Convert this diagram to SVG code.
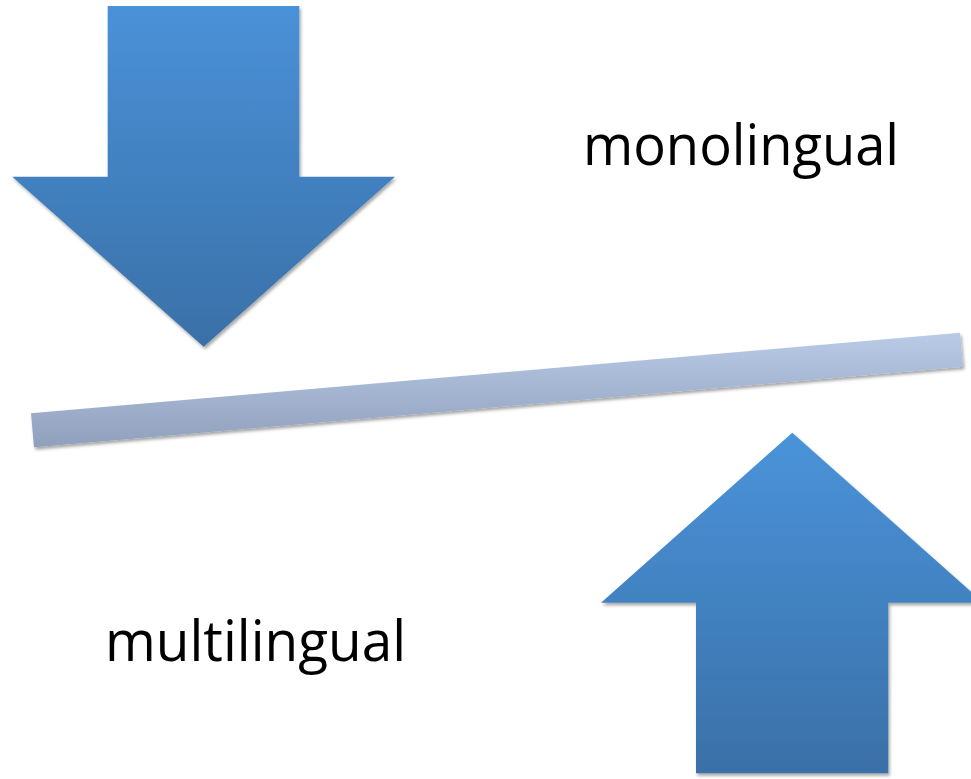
<svg xmlns="http://www.w3.org/2000/svg" width="971" height="779" viewBox="0 0 971 779">
  <style>
    .lbl { font-family: "Open Sans", "Liberation Sans", sans-serif; font-size: 57px; fill: #000; }
    .arrow { filter: url(#shadow); }
  </style>
  <defs>
    <linearGradient id="gDown" x1="0" y1="0" x2="0" y2="1">
      <stop offset="0" stop-color="#4a91d8"/>
      <stop offset="1" stop-color="#3a70a7"/>
    </linearGradient>
    <linearGradient id="gUp" x1="0" y1="0" x2="0" y2="1">
      <stop offset="0" stop-color="#4a93da"/>
      <stop offset="1" stop-color="#3a70a7"/>
    </linearGradient>
    <linearGradient id="gBar" gradientUnits="userSpaceOnUse" x1="0" y1="333" x2="0" y2="448">
      <stop offset="0" stop-color="#b9cbe7"/>
      <stop offset="1" stop-color="#8f9fbc"/>
    </linearGradient>
    <filter id="shadow" x="-10%" y="-10%" width="120%" height="120%">
      <feDropShadow dx="1.5" dy="2.5" stdDeviation="1.8" flood-color="#000" flood-opacity="0.35"/>
    </filter>
  </defs>
  <rect width="971" height="779" fill="#ffffff"/>

  <g id="arrow-down" class="arrow">
    <polygon points="107.7,6 299.3,6 299.3,176.7 395,176.7 203.7,346.7 12.3,176.7 107.7,176.7" fill="url(#gDown)"/>
  </g>

  <g id="bar" class="arrow">
    <polygon points="31,413.3 960,332.7 963,366.7 34,447.3" fill="url(#gBar)"/>
  </g>

  <g id="arrow-up" class="arrow">
    <polygon points="792.3,432.7 983.5,602.7 888.3,602.7 888.3,773.3 696,773.3 696,602.7 601,602.7" fill="url(#gUp)"/>
  </g>

  <g id="label-monolingual">
    <text class="lbl" x="583" y="165" textLength="316" lengthAdjust="spacingAndGlyphs">monolingual</text>
  </g>
  <g id="label-multilingual">
    <text class="lbl" x="105" y="661" textLength="301" lengthAdjust="spacingAndGlyphs">multilingual</text>
  </g>
</svg>
